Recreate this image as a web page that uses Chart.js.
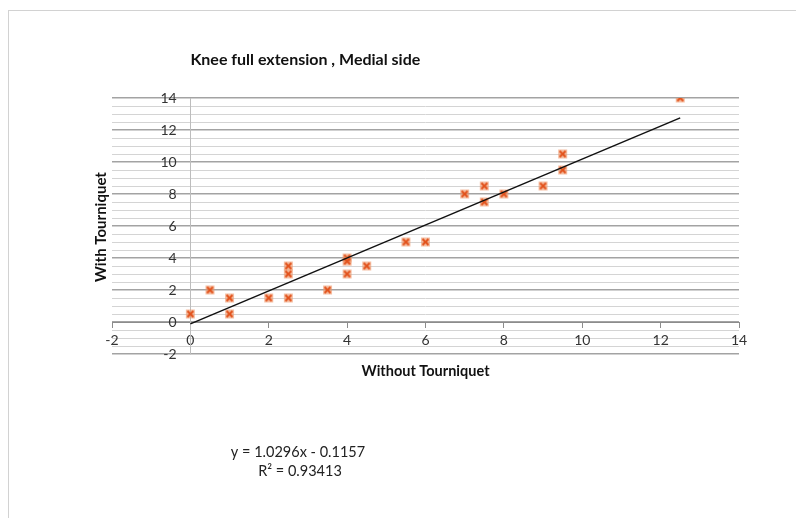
<!DOCTYPE html>
<html>
<head>
<meta charset="utf-8">
<title>Knee full extension, Medial side</title>
<script src="https://cdn.jsdelivr.net/npm/chart.js@4/dist/chart.umd.min.js"></script>
<style>
  html, body { margin: 0; padding: 0; background: #fff; }
  #wrap { position: relative; width: 796px; height: 518px; overflow: hidden; }
  #frame { position: absolute; left: 8px; top: 10px; width: 800px; height: 520px;
           border-top: 1px solid #d2d2d2; border-left: 1px solid #d2d2d2; }
  canvas { position: absolute; left: 0; top: 0; }
</style>
</head>
<body>
<div id="wrap">
  <div id="frame"></div>
  <canvas id="scatterChart" width="796" height="518"></canvas>
</div>
<script>
// values
const withoutTourniquet = [0, 0.5, 1, 1, 2, 2.5, 2.5, 2.5, 3.5, 4, 4, 4, 4.5, 5.5, 6, 7, 7.5, 7.5, 8, 9, 9.5, 9.5, 12.5];
const withTourniquet    = [0.5, 2, 1.5, 0.5, 1.5, 3.5, 3, 1.5, 2, 4, 3.8, 3, 3.5, 5, 5, 8, 8.5, 7.5, 8, 8.5, 10.5, 9.5, 14];
const axisMin = -2;
const axisMax = 14;
const majorStep = 2;
const minorStep = 0.5;

// linear trendline as printed on the chart
const trendSlope = 1.0296;
const trendIntercept = -0.1157;
const trendFrom = 0;
const trendTo = 12.5;

const chartTitle = 'Knee full extension , Medial side';
const xTitle = 'Without Tourniquet';
const yTitle = 'With Tourniquet';
const equationText = 'y = 1.0296x - 0.1157';
const rSquaredText = 'R\u00B2 = 0.93413';

const fontFamily = 'Lato, "Open Sans", "Liberation Sans", sans-serif';

const points = withoutTourniquet.map((x, i) => ({ x: x, y: withTourniquet[i] }));
const trendPoints = [trendFrom, trendTo].map(x => ({ x: x, y: trendSlope * x + trendIntercept }));

// excel style marker: pale square with an x on it
function makeMarker() {
  const c = document.createElement('canvas');
  c.width = 11;
  c.height = 11;
  const g = c.getContext('2d');
  g.fillStyle = 'rgba(238,150,105,0.6)';
  g.fillRect(1, 1, 9, 9);
  g.strokeStyle = '#e2531d';
  g.lineWidth = 2.2;
  g.beginPath();
  g.moveTo(2.5, 2.5); g.lineTo(8.5, 8.5);
  g.moveTo(8.5, 2.5); g.lineTo(2.5, 8.5);
  g.stroke();
  return c;
}

const textPlugin = {
  id: 'chartTexts',
  afterDraw(chart) {
    const ctx = chart.ctx;
    const area = chart.chartArea;
    const xs = chart.scales.x;
    ctx.save();
    ctx.fillStyle = '#111';
    ctx.textBaseline = 'middle';

    ctx.font = 'bold 16px ' + fontFamily;
    ctx.textAlign = 'left';
    ctx.fillText(chartTitle, xs.getPixelForValue(0), 60);

    ctx.font = 'bold 14.5px ' + fontFamily;
    ctx.textAlign = 'center';
    ctx.fillText(xTitle, (area.left + area.right) / 2, 371);

    ctx.save();
    ctx.font = 'bold 15px ' + fontFamily;
    ctx.translate(101, 227);
    ctx.rotate(-Math.PI / 2);
    ctx.fillText(yTitle, 0, 0);
    ctx.restore();

    ctx.font = '14.5px ' + fontFamily;
    ctx.fillStyle = '#222';
    ctx.fillText(equationText, 298, 452);
    ctx.fillText(rSquaredText, 300, 471);
    ctx.restore();
  }
};

const tickFont = { family: fontFamily, size: 14 };

const config = {
  data: {
    datasets: [
      {
        type: 'line',
        label: 'Linear trend',
        data: trendPoints,
        borderColor: '#111',
        borderWidth: 1.5,
        pointRadius: 0,
        fill: false,
        order: 0,
      },
      {
        type: 'scatter',
        label: 'Medial side',
        data: points,
        pointStyle: makeMarker(),
        pointRadius: 5,
        order: 1,
      },
    ],
  },
  options: {
    responsive: false,
    animation: false,
    layout: {
      padding: { left: 112, right: 57, top: 98, bottom: 164 },
    },
    plugins: {
      legend: { display: false },
      tooltip: { enabled: false },
      title: { display: false },
    },
    scales: {
      x: {
        type: 'linear',
        min: axisMin,
        max: axisMax,
        position: { y: 0 },
        ticks: { stepSize: majorStep, color: '#333', padding: 5, font: tickFont },
        grid: { drawOnChartArea: false, drawTicks: true, tickLength: 5, color: '#8c8c8c' },
        border: { color: '#8c8c8c', width: 1 },
      },
      y: {
        type: 'linear',
        min: axisMin,
        max: axisMax,
        position: { x: 0 },
        ticks: { stepSize: minorStep, autoSkip: false, display: false },
        grid: {
          drawTicks: false,
          color: (ctx) => (ctx.tick && ctx.tick.value % majorStep === 0 ? '#a3a3a3' : '#d4d4d4'),
          lineWidth: (ctx) => (ctx.tick && ctx.tick.value % majorStep === 0 ? 1.5 : 1),
        },
        border: { color: '#bdbdbd', width: 1 },
      },
      // label-only axis, set a little left of the y axis so the numbers sit clear of it
      yLabels: {
        type: 'linear',
        axis: 'y',
        min: axisMin,
        max: axisMax,
        position: { x: -0.35 },
        ticks: { stepSize: majorStep, color: '#333', font: tickFont },
        grid: { display: false },
        border: { display: false },
      },
    },
  },
  plugins: [textPlugin],
};

var scatterChart = new Chart(document.getElementById('scatterChart'), config);
</script>
</body>
</html>
